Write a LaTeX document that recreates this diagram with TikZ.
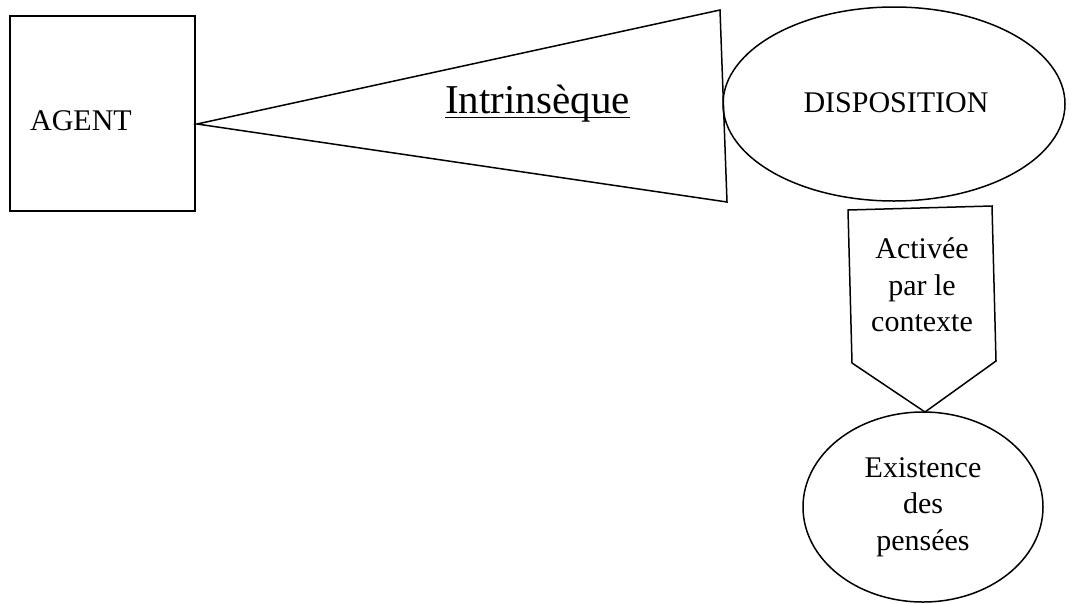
\documentclass[tikz,border=0pt]{standalone}
\usepackage{fontspec}
\setmainfont{Liberation Serif}
\usetikzlibrary{shapes.geometric}
\tikzset{
  shapeline/.style={draw=black, line width=1.5pt, line join=miter},
  lbl/.style={inner sep=0pt, font=\fontsize{30}{36.5}\selectfont, align=center},
}
\begin{document}
\begin{tikzpicture}[x=1pt, y=-1pt]
\useasboundingbox[fill=white] (0,0) rectangle (1081,603);
% AGENT box
\node[shapeline, rectangle, minimum width=185pt, minimum height=195pt, inner sep=0pt] (agent) at (102.5,113.5) {};
\node[lbl, anchor=base] (agentlbl) at (81,130) {AGENT};
% triangle (Intrinseque)
\coordinate (tapex) at (197,124);
\coordinate (ttop) at (720,10);
\coordinate (tbot) at (727,202);
\draw[shapeline] (tapex) -- (ttop) -- (tbot) -- cycle;
\node[inner sep=0pt, font=\fontsize{41}{48}\selectfont, anchor=base] (intr) at (537.5,113) {Intrins\`eque};
\draw[line width=1.4pt] ([yshift=-4.5pt]intr.base west) -- ([yshift=-4.5pt]intr.base east);
% DISPOSITION ellipse
\node[shapeline, ellipse, minimum width=342pt, minimum height=194pt, inner sep=0pt] (disp) at (894,104) {};
\node[lbl, anchor=base] (displbl) at (896,112) {DISPOSITION};
% pentagon arrow
\coordinate (p1) at (848,210);
\coordinate (p2) at (992,206);
\coordinate (p3) at (996,361);
\coordinate (p4) at (925,412);
\coordinate (p5) at (852,363);
\draw[shapeline] (p1) -- (p2) -- (p3) -- (p4) -- (p5) -- cycle;
\node[lbl] (act) at (922,285) {Activ\'ee\\par le\\contexte};
% Existence ellipse
\node[shapeline, ellipse, minimum width=240pt, minimum height=190pt, inner sep=0pt] (exist) at (923,507) {};
\node[lbl] (existlbl) at (923,507) {Existence\\des\\pens\'ees};
\end{tikzpicture}
\end{document}
